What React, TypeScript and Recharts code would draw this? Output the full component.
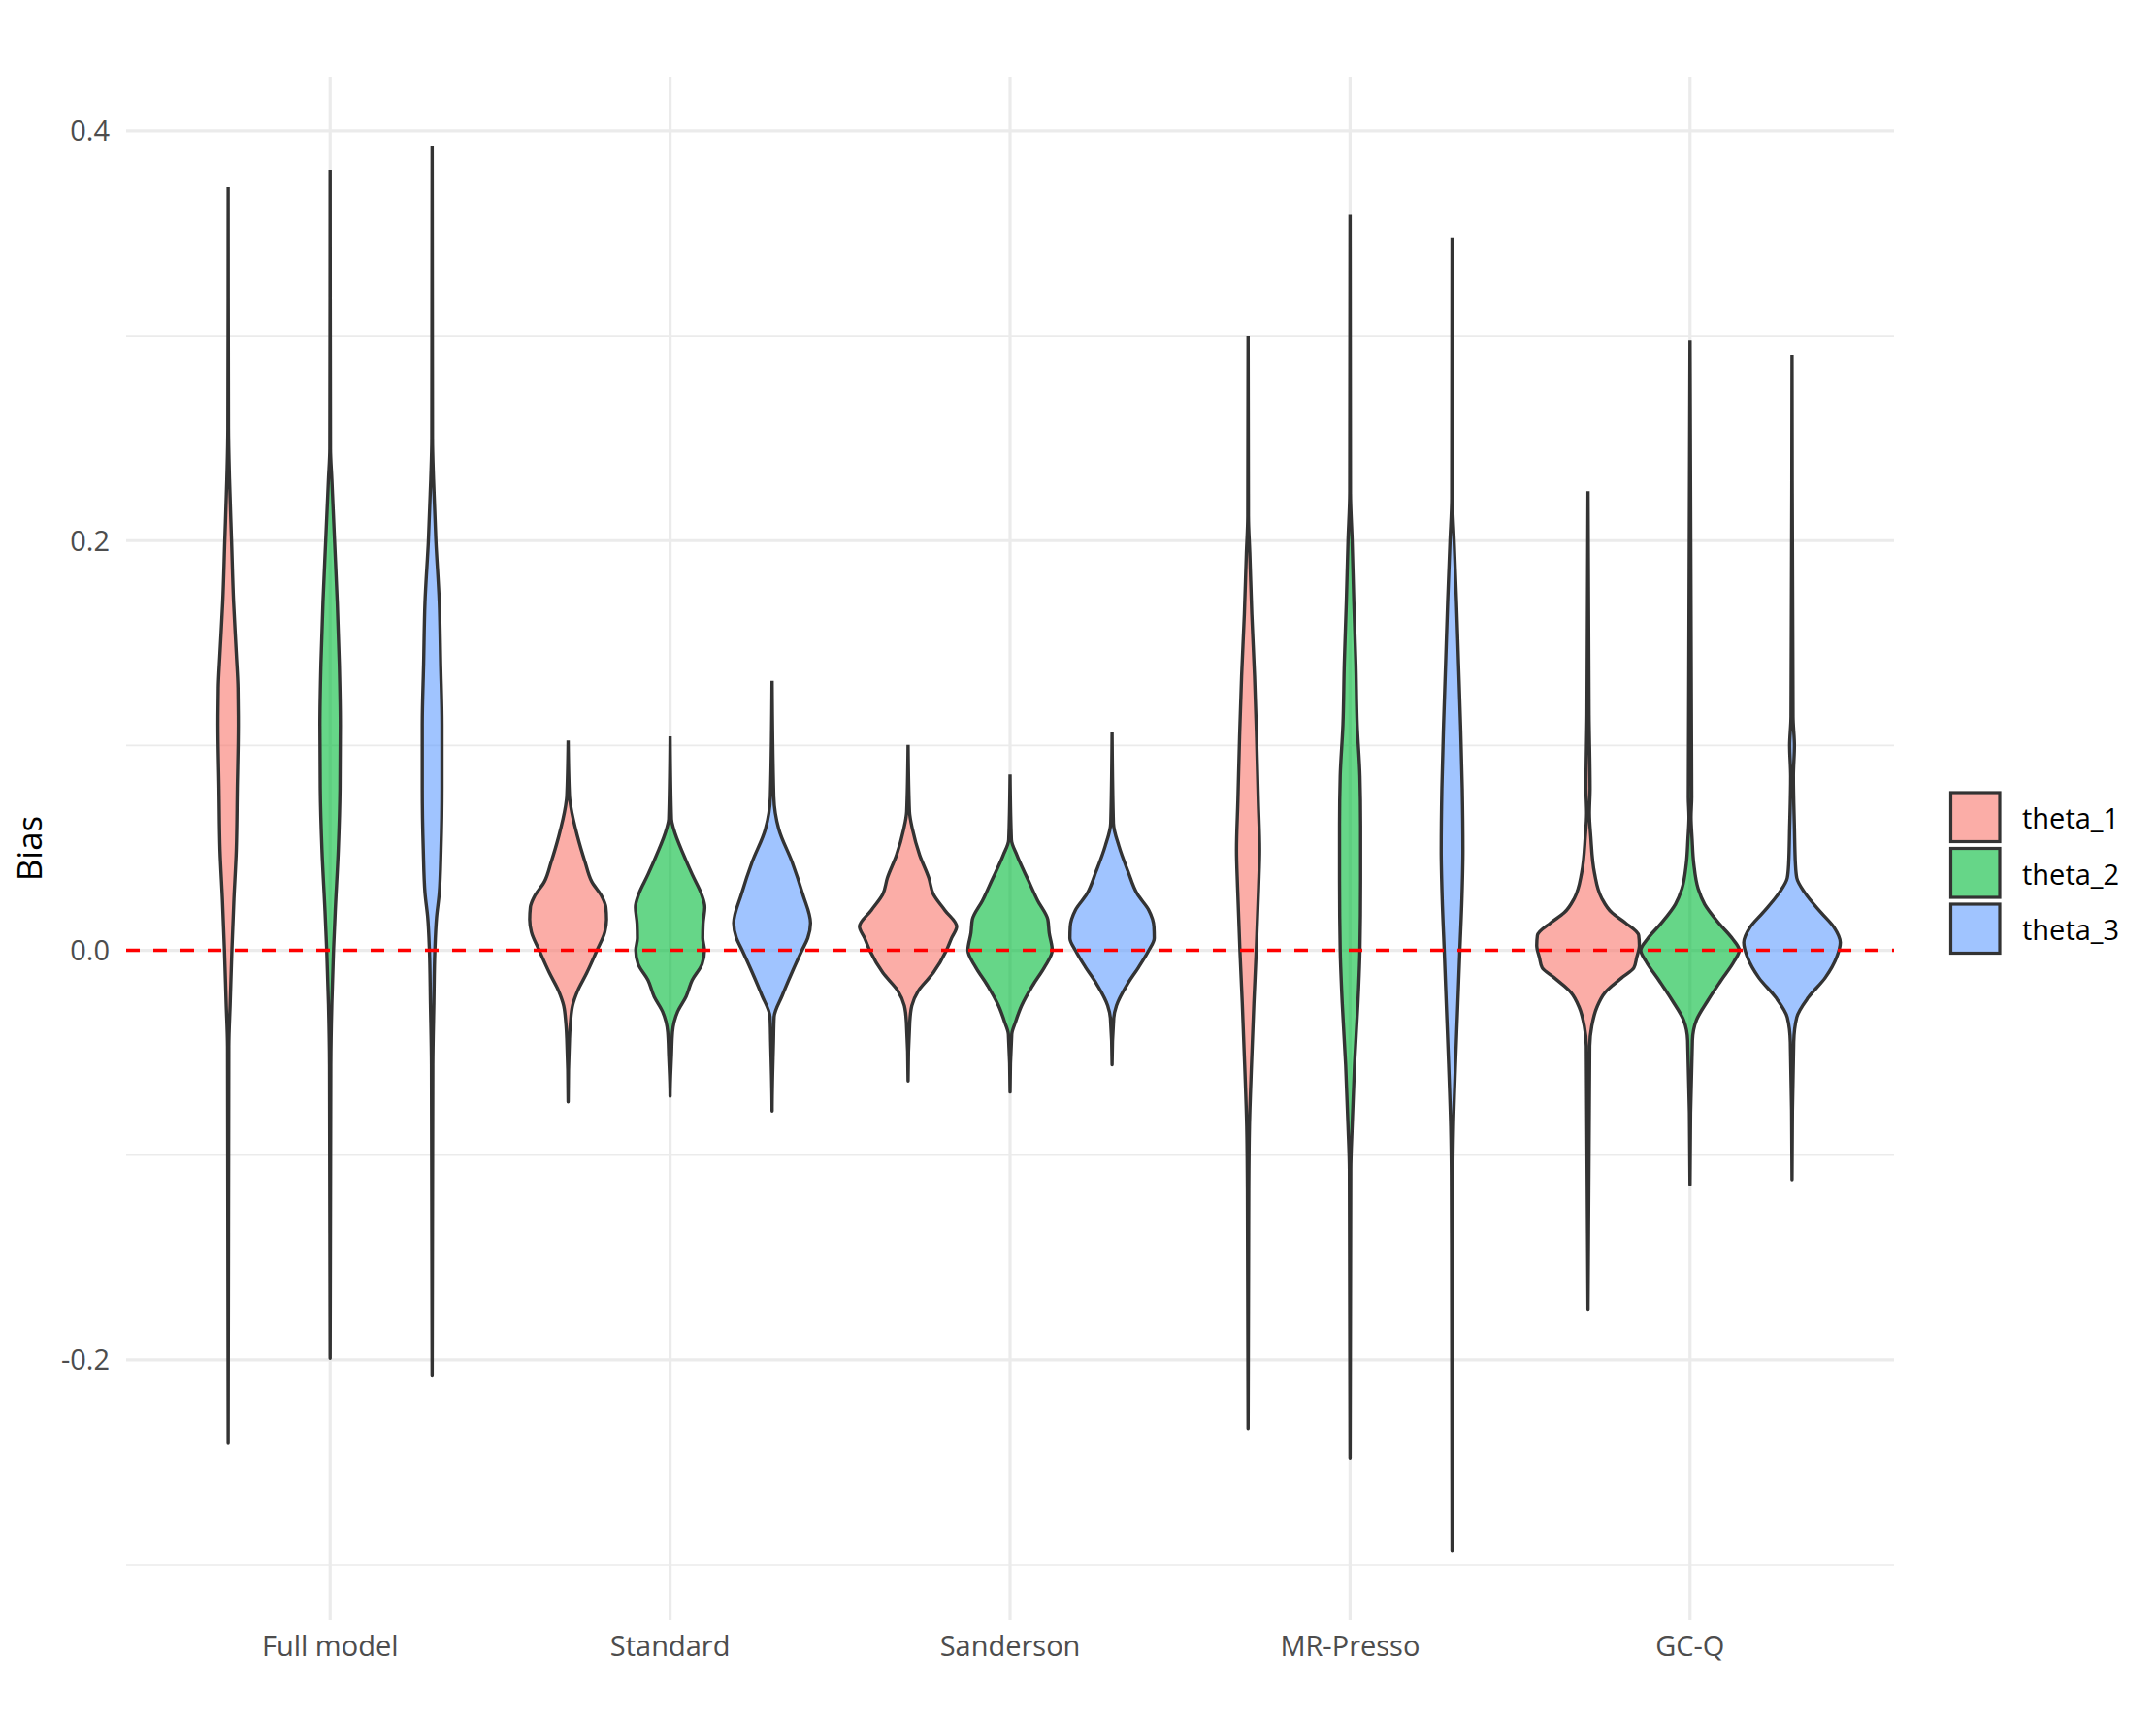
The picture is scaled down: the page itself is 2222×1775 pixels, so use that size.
import React from 'react'
import { ScatterChart, Scatter, XAxis, YAxis, ReferenceLine, Legend, Label } from 'recharts'

const methods = ['Full model', 'Standard', 'Sanderson', 'MR-Presso', 'GC-Q']
const thetas = ['theta_1', 'theta_2', 'theta_3']
const colors = ['#F8766D', '#00BA38', '#619CFF']
const dodge = [-0.3, 0, 0.3]
const yTicks = [-0.2, 0, 0.2, 0.4]
const minorBreaks = [-0.3, -0.1, 0.1, 0.3]
const xTicks = [0, 1, 2, 3, 4]
const xDomain = [-0.6, 4.6]
const zeroBias = 0

// violin profiles: [bias, half width in category units], top tip -> bottom tip
const fullModel1 = [[0.3725, 0], [0.255, 0.001], [0.23, 0.004], [0.2, 0.01], [0.17, 0.016], [0.145, 0.024], [0.128, 0.029], [0.11, 0.03], [0.079, 0.027], [0.049, 0.024], [0.025, 0.017], [0, 0.011], [-0.026, 0.006], [-0.047, 0.002], [-0.2403, 0]]
const fullModel2 = [[0.381, 0], [0.245, 0.001], [0.23, 0.005], [0.2, 0.013], [0.17, 0.021], [0.14, 0.027], [0.11, 0.03], [0.079, 0.029], [0.049, 0.024], [0.019, 0.015], [0, 0.01], [-0.026, 0.005], [-0.056, 0.002], [-0.1993, 0]]
const fullModel3 = [[0.3926, 0], [0.25, 0.001], [0.23, 0.004], [0.2, 0.011], [0.17, 0.021], [0.14, 0.025], [0.11, 0.029], [0.079, 0.029], [0.049, 0.026], [0.028, 0.021], [0.016, 0.013], [0, 0.008], [-0.026, 0.005], [-0.056, 0.002], [-0.2074, 0]]

const standard1 = [[0.1024, 0], [0.075, 0.004], [0.07, 0.008], [0.056, 0.027], [0.043, 0.05], [0.0337, 0.069], [0.026, 0.1], [0.021, 0.111], [0.015, 0.113], [0.009, 0.108], [0, 0.085], [-0.011, 0.055], [-0.0198, 0.028], [-0.027, 0.013], [-0.035, 0.007], [-0.043, 0.004], [-0.074, 0]]
const standard2 = [[0.1044, 0], [0.064, 0.004], [0.059, 0.011], [0.0465, 0.04], [0.037, 0.065], [0.0275, 0.092], [0.021, 0.102], [0.013, 0.097], [0.006, 0.096], [0, 0.101], [-0.0067, 0.094], [-0.0145, 0.065], [-0.0226, 0.047], [-0.03, 0.022], [-0.04, 0.007], [-0.0515, 0.004], [-0.0712, 0]]
const standard3 = [[0.1315, 0], [0.075, 0.005], [0.059, 0.02], [0.043, 0.059], [0.0275, 0.09], [0.0133, 0.113], [0.006, 0.105], [0, 0.088], [-0.011, 0.058], [-0.022, 0.03], [-0.0325, 0.006], [-0.045, 0.004], [-0.0785, 0]]

const sanderson1 = [[0.1003, 0], [0.068, 0.004], [0.059, 0.013], [0.0465, 0.034], [0.0353, 0.061], [0.0275, 0.074], [0.0196, 0.108], [0.0116, 0.143], [0.006, 0.128], [0, 0.113], [-0.011, 0.074], [-0.0198, 0.03], [-0.027, 0.011], [-0.035, 0.005], [-0.0638, 0]]
const sanderson2 = [[0.0858, 0], [0.054, 0.004], [0.0465, 0.02], [0.034, 0.054], [0.0243, 0.081], [0.015, 0.111], [0.0085, 0.115], [0, 0.124], [-0.0083, 0.101], [-0.0162, 0.07], [-0.027, 0.034], [-0.035, 0.016], [-0.041, 0.005], [-0.0692, 0]]
const sanderson3 = [[0.1063, 0], [0.062, 0.004], [0.051, 0.02], [0.0385, 0.047], [0.0275, 0.074], [0.0196, 0.108], [0.0116, 0.123], [0.006, 0.124], [0, 0.108], [-0.0083, 0.078], [-0.016, 0.047], [-0.027, 0.013], [-0.033, 0.005], [-0.0559, 0]]

const mrPresso1 = [[0.3, 0], [0.212, 0.001], [0.194, 0.005], [0.164, 0.011], [0.134, 0.019], [0.104, 0.025], [0.073, 0.03], [0.049, 0.034], [0.031, 0.031], [0, 0.024], [-0.026, 0.017], [-0.056, 0.01], [-0.086, 0.004], [-0.117, 0.002], [-0.2336, 0]]
const mrPresso2 = [[0.359, 0], [0.224, 0.001], [0.2, 0.006], [0.17, 0.011], [0.14, 0.017], [0.11, 0.021], [0.085, 0.029], [0.061, 0.031], [0.034, 0.031], [0, 0.029], [-0.026, 0.023], [-0.056, 0.013], [-0.086, 0.006], [-0.107, 0.002], [-0.248, 0]]
const mrPresso3 = [[0.348, 0], [0.221, 0.001], [0.2, 0.006], [0.17, 0.013], [0.14, 0.019], [0.11, 0.025], [0.079, 0.03], [0.049, 0.032], [0.025, 0.029], [0, 0.023], [-0.026, 0.017], [-0.056, 0.01], [-0.086, 0.004], [-0.11, 0.002], [-0.2933, 0]]

const gcq1 = [[0.2242, 0], [0.115, 0.003], [0.079, 0.006], [0.067, 0.004], [0.0556, 0.008], [0.0376, 0.019], [0.0255, 0.04], [0.0182, 0.071], [0.0134, 0.11], [0.0073, 0.149], [0.0024, 0.151], [-0.0036, 0.143], [-0.0085, 0.135], [-0.0133, 0.1], [-0.0206, 0.05], [-0.0278, 0.026], [-0.037, 0.011], [-0.0466, 0.005], [-0.1752, 0]]
const gcq2 = [[0.298, 0], [0.0748, 0.005], [0.065, 0.003], [0.0546, 0.006], [0.0422, 0.011], [0.03, 0.024], [0.0225, 0.043], [0.013, 0.086], [0.0058, 0.124], [0, 0.145], [-0.0053, 0.13], [-0.015, 0.09], [-0.0246, 0.052], [-0.034, 0.019], [-0.044, 0.007], [-0.1145, 0]]
const gcq3 = [[0.2906, 0], [0.114, 0.003], [0.1, 0.007], [0.085, 0.004], [0.06, 0.007], [0.042, 0.01], [0.0353, 0.014], [0.028, 0.038], [0.0183, 0.086], [0.0111, 0.124], [0.0038, 0.142], [-0.0035, 0.131], [-0.0133, 0.098], [-0.023, 0.048], [-0.0327, 0.014], [-0.0447, 0.005], [-0.112, 0]]

const profiles = [
  [fullModel1, fullModel2, fullModel3],
  [standard1, standard2, standard3],
  [sanderson1, sanderson2, sanderson3],
  [mrPresso1, mrPresso2, mrPresso3],
  [gcq1, gcq2, gcq3],
]

// closed outline: right side going down, left side coming back up
const violins = profiles.flatMap((group, m) =>
  group.map((prof, t) => {
    const cx = m + dodge[t]
    const right = prof.map(([y, w]) => ({ x: cx + w, y }))
    const left = prof.slice(0, -1).reverse().map(([y, w]) => ({ x: cx - w, y }))
    return { key: `${m}-${t}`, color: colors[t], points: [...right, ...left] }
  })
)

// dashed zero line, drawn as a series so it sits on top of the violins
const zeroLine = xDomain.map((x) => ({ x, y: zeroBias }))

const font = '"Open Sans", "Noto Sans", sans-serif'
const gridColor = '#EBEBEB'

const NoDot = () => <g />

const BiasLabel = (props: any) => {
  const vb = props.viewBox
  const cy = vb && vb.height ? vb.y + vb.height / 2 : 874
  return (
    <text x={43} y={cy} transform={`rotate(-90, 43, ${cy})`} textAnchor="middle" fontSize={35} fontFamily={font} fill="#000">
      Bias
    </text>
  )
}

const renderLegend = () => (
  <svg width={210} height={200}>
    {thetas.map((t, i) => (
      <g key={t}>
        <rect x={10.5} y={17 + i * 57.5} width={50.5} height={50.5} fill={colors[i]} fillOpacity={0.6} stroke="#333333" strokeWidth={3.2} />
        <text x={84} y={42.5 + i * 57.5} dominantBaseline="central" fontSize={29} fontFamily={font} fill="#000">
          {t}
        </text>
      </g>
    ))}
  </svg>
)

export default function App() {
  return (
    <div style={{ position: 'absolute', left: 0, top: 0, width: 2222, height: 1775, background: '#fff' }}>
      <ScatterChart width={2222} height={1775} margin={{ top: 79, right: 270, bottom: 45, left: 0 }}>
        {minorBreaks.map((v) => (
          <ReferenceLine key={`minor${v}`} y={v} stroke={gridColor} strokeWidth={1.6} />
        ))}
        {yTicks.map((v) => (
          <ReferenceLine key={`major${v}`} y={v} stroke={gridColor} strokeWidth={3.2} />
        ))}
        {xTicks.map((v) => (
          <ReferenceLine key={`vert${v}`} x={v} stroke={gridColor} strokeWidth={3.2} />
        ))}
        <XAxis
          type="number"
          dataKey="x"
          domain={xDomain}
          ticks={xTicks}
          interval={0}
          allowDataOverflow
          tickFormatter={(i: number) => methods[i]}
          axisLine={false}
          tickLine={false}
          tickSize={0}
          tickMargin={16}
          height={60}
          tick={{ fill: '#4D4D4D', fontSize: 29, fontFamily: font }}
        />
        <YAxis
          type="number"
          dataKey="y"
          domain={[-0.327, 0.4265]}
          ticks={yTicks}
          interval={0}
          allowDataOverflow
          tickFormatter={(v: number) => v.toFixed(1)}
          axisLine={false}
          tickLine={false}
          tickSize={0}
          tickMargin={17}
          width={130}
          tick={{ fill: '#4D4D4D', fontSize: 29, fontFamily: font }}
          label={<Label content={BiasLabel} />}
        />
        {violins.map((v) => (
          <Scatter
            key={v.key}
            data={v.points}
            shape={NoDot}
            line={{ stroke: '#333333', strokeWidth: 3.4, fill: v.color, fillOpacity: 0.6, strokeLinejoin: 'round' }}
            lineType="joint"
            lineJointType="monotoneY"
            isAnimationActive={false}
          />
        ))}
        <Scatter
          data={zeroLine}
          shape={NoDot}
          line={{ stroke: '#FF0000', strokeWidth: 3.4, strokeDasharray: '14 14', fill: 'none' }}
          lineType="joint"
          lineJointType="linear"
          isAnimationActive={false}
        />
        <Legend layout="vertical" align="center" verticalAlign="middle" wrapperStyle={{ left: 2000, top: 800 }} content={renderLegend} />
      </ScatterChart>
    </div>
  )
}
